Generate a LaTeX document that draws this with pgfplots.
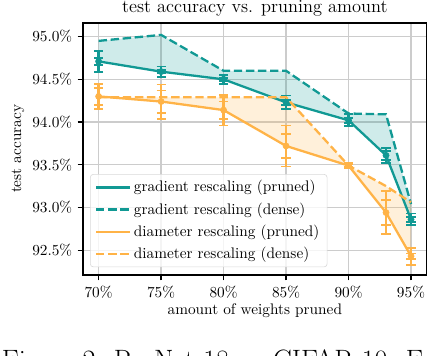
\documentclass[border=0pt]{standalone}
\usepackage{pgfplots}
\usepackage{pgfplotstable}
\pgfplotsset{compat=1.18}
\usepgfplotslibrary{fillbetween}

\definecolor{tealc}{RGB}{17,153,148}
\definecolor{orangec}{RGB}{255,179,71}

% x = amount pruned, y = accuracy, eo/ei = outer/inner error bar half width
\pgfplotstableread{
x  y     eo    ei
70 94.71 0.12  0.04
75 94.59 0.06  0.02
80 94.50 0.055 0.02
85 94.23 0.08  0.03
90 94.02 0.07  0.03
93 93.61 0.09  0.05
95 92.86 0.07  0.03
}\gradpruned
\pgfplotstableread{
x  y
70 94.95
75 95.02
80 94.60
85 94.60
90 94.10
93 94.09
95 93.04
}\graddense
\pgfplotstableread{
x  y     eo    ei
70 94.30 0.15  0.10
75 94.24 0.20  0.13
80 94.14 0.18  0.10
85 93.72 0.24  0.14
90 93.49 0.03  0.02
93 92.94 0.25  0.15
95 92.43 0.10  0.03
}\diampruned
\pgfplotstableread{
x  y
70 94.29
75 94.29
80 94.29
85 94.29
90 93.49
93 93.25
95 93.06
}\diamdense

\begin{document}
\begin{tikzpicture}
\begin{axis}[
  set layers,
  scale only axis,
  width=224.6pt, height=164.7pt,
  xmin=68.75, xmax=96.25, ymin=92.21, ymax=95.16,
  xtick={70,75,80,85,90,95},
  xticklabels={70\%,75\%,80\%,85\%,90\%,95\%},
  ytick={92.5,93,93.5,94,94.5,95},
  yticklabels={92.5\%,93.0\%,93.5\%,94.0\%,94.5\%,95.0\%},
  grid=major,
  grid style={black!20, line width=0.8pt},
  tick align=outside,
  major tick length=3.5pt,
  tick style={black, line width=0.8pt},
  axis line style={line width=0.8pt},
  xtick pos=bottom, ytick pos=left,
  title={test accuracy vs. pruning amount},
  title style={font=\large, at={(0.5,1)}, anchor=base, yshift=0.7pt},
  xlabel={amount of weights pruned},
  xlabel style={at={(0.5,0)}, anchor=base, yshift=-26pt},
  ylabel={test accuracy},
  ylabel style={at={(axis description cs:-0.189,0.5)}, anchor=center},
  legend cell align=left,
  legend image code/.code={\draw[#1] (0pt,0pt) -- (22pt,0pt);},
  legend style={at={(rel axis cs:0.0204,0.0306)}, anchor=south west,
    draw=black!15, rounded corners=2pt, fill=white, fill opacity=0.8,
    text opacity=1, font=\normalsize, row sep=1.5pt},
  error bars/error bar style={line width=1.5pt, solid},
  error bars/error mark options={line width=1.2pt, mark size=3pt, rotate=90},
]
\addplot[tealc, line width=1.5pt, name path=gp,
  error bars/.cd, y dir=both, y explicit]
  table[x=x, y=y, y error=eo] {\gradpruned};
\addlegendentry{gradient rescaling (pruned)}
\addplot[tealc, line width=1.5pt, dash pattern=on 5.5pt off 2.4pt, name path=gd]
  table[x=x, y=y] {\graddense};
\addlegendentry{gradient rescaling (dense)}
\addplot[orangec, line width=1.5pt, name path=dp,
  error bars/.cd, y dir=both, y explicit]
  table[x=x, y=y, y error=eo] {\diampruned};
\addlegendentry{diameter rescaling (pruned)}
\addplot[orangec, line width=1.5pt, dash pattern=on 5.5pt off 2.4pt, name path=dd]
  table[x=x, y=y] {\diamdense};
\addlegendentry{diameter rescaling (dense)}

% inner error bars
\addplot[tealc, forget plot, only marks, mark=none,
  error bars/.cd, y dir=both, y explicit]
  table[x=x, y=y, y error=ei] {\gradpruned};
\addplot[orangec, forget plot, only marks, mark=none,
  error bars/.cd, y dir=both, y explicit]
  table[x=x, y=y, y error=ei] {\diampruned};

% shaded gaps between pruned and dense
\addplot[tealc, fill opacity=0.2, draw=none, forget plot, on layer=pre main]
  fill between[of=gp and gd];
\addplot[orangec, fill opacity=0.2, draw=none, forget plot, on layer=pre main]
  fill between[of=dp and dd];
\end{axis}

\node[anchor=base west, inner sep=0pt, font=\fontsize{18.3}{22}\selectfont]
  at (-53.2pt,-62.0pt) {Figure 2: ResNet-18 on CIFAR-10. E};

\pgfresetboundingbox
\path[use as bounding box] (-54.25pt,-52.9pt) rectangle (226.8pt,179.7pt);
\end{tikzpicture}
\end{document}
